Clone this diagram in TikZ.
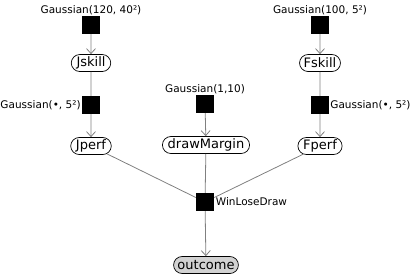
\documentclass[tikz,border=0pt]{standalone}
\usepackage{fontspec}
\setmainfont{DejaVu Sans}
\usetikzlibrary{arrows.meta,shapes.misc}

\begin{document}
\begin{tikzpicture}[x=1pt, y=-1pt, every node/.style={font=\fontsize{10.5}{12}\selectfont},
  factor/.style={fill=black, minimum size=18pt, inner sep=0pt},
  var/.style={draw=black, line width=0.7pt, rounded rectangle, minimum height=17pt, inner xsep=2.5pt, inner ysep=1pt, font=\fontsize{13}{15}\selectfont},
  edge/.style={draw=gray, line width=0.8pt},
  arr/.style={edge, -{Straight Barb[length=5pt, width=9pt]}}]
        \useasboundingbox (0,0) rectangle (411,277);
        % left column
        \node[factor, label={[inner sep=1pt]above:{Gaussian(120, 40²)}}] (gJskill) at (91,25) {};
        \node[var] (Jskill) at (91,63) {Jskill};
        \node[factor, label={[inner sep=1pt]left:{Gaussian(•, 5²)}}] (gJperf) at (91,105) {};
        \node[var] (Jperf) at (91,146) {Jperf};
        % middle column
        \node[factor, label={[inner sep=1pt]above:{Gaussian(1,10)}}] (gMargin) at (205,104) {};
        \node[var] (drawMargin) at (206,145) {drawMargin};
        \node[factor, label={[inner sep=1.5pt]right:{WinLoseDraw}}] (wld) at (205,202) {};
        \node[var, fill=gray!35] (outcome) at (206,265) {outcome};
        % right column
        \node[factor, label={[inner sep=1pt]above:{Gaussian(100, 5²)}}] (gFskill) at (320,25) {};
        \node[var] (Fskill) at (320,63) {Fskill};
        \node[factor, label={[inner sep=1pt]right:{Gaussian(•, 5²)}}] (gFperf) at (320,105) {};
        \node[var] (Fperf) at (320,146) {Fperf};
        % edges
        \draw[arr] (gJskill) -- (Jskill);
        \draw[edge] (Jskill) -- (gJperf);
        \draw[arr] (gJperf) -- (Jperf);
        \draw[arr] (gFskill) -- (Fskill);
        \draw[edge] (Fskill) -- (gFperf);
        \draw[arr] (gFperf) -- (Fperf);
        \draw[arr] (gMargin) -- (drawMargin);
        \draw[edge] (Jperf) -- (wld);
        \draw[edge] (drawMargin) -- (wld);
        \draw[edge] (Fperf) -- (wld);
        \draw[arr] (wld) -- (outcome);
      \end{tikzpicture}
\end{document}
